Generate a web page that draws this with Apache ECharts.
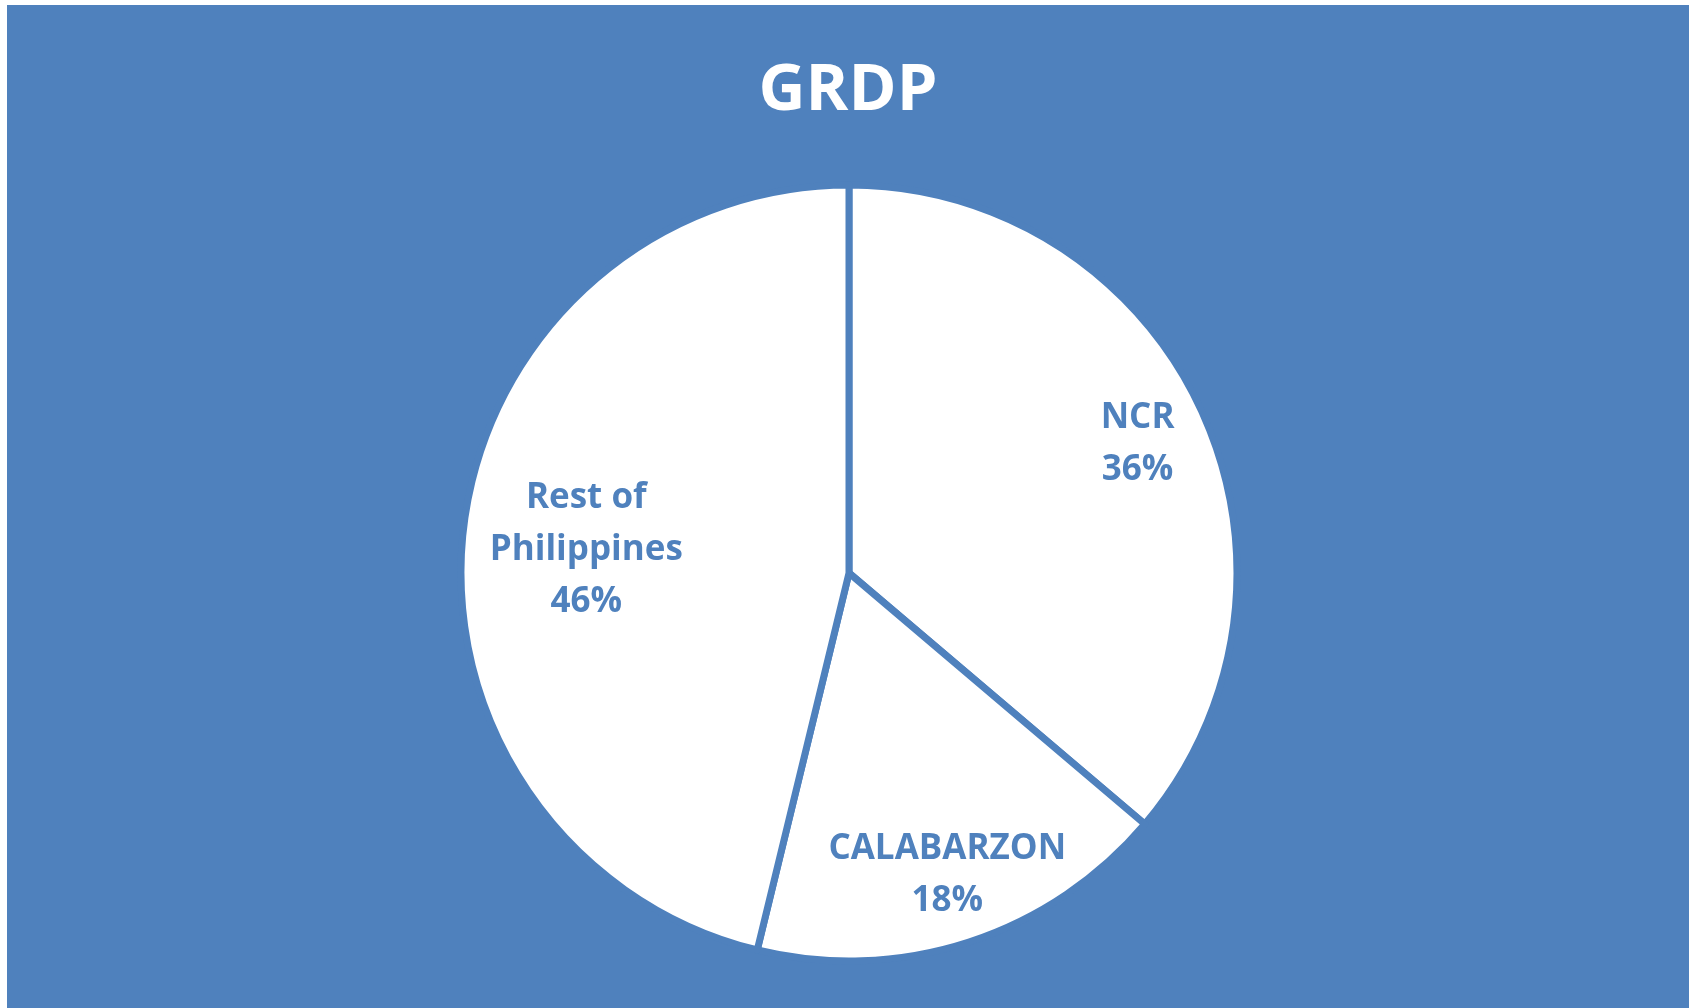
<!DOCTYPE html>
<html>
<head>
<meta charset="utf-8">
<script src="https://cdn.jsdelivr.net/npm/echarts@6/dist/echarts.min.js"></script>
<style>
  html, body { margin: 0; padding: 0; background: #ffffff; width: 1692px; height: 1008px; overflow: hidden; }
  #chart { position: absolute; left: 7px; top: 5px; width: 1682px; height: 1003px; }
</style>
</head>
<body>
<div id="chart"></div>
<script>
// ---- data ----
const categories = ['NCR', 'CALABARZON', 'Rest of Philippines'];
const labelNames = ['NCR', 'CALABARZON', 'Rest of\nPhilippines'];
const values = [36.2, 17.6, 46.2];
const titleText = 'GRDP';

const BLUE = '#4F81BD';
const chart = echarts.init(document.getElementById('chart'), null, { renderer: 'canvas' });

const center = [842, 568];
// spacer line (rich style) used to nudge a label downward; left padding nudges rightward
const labelSpacer = ['{s1| }\n', '', '{s2| }\n'];
const labelPads = [0, 0, [0, 0, 0, 106]];

const mainData = categories.map((c, i) => ({ name: c, value: values[i] }));
const labelData = categories.map((c, i) => ({
  name: c,
  value: values[i],
  label: { formatter: labelSpacer[i] + labelNames[i] + '\n{d}%', padding: labelPads[i] }
}));

chart.setOption({
  backgroundColor: BLUE,
  animation: false,
  title: {
    text: titleText,
    left: 'center',
    top: 49,
    textStyle: { color: '#ffffff', fontFamily: 'Open Sans', fontWeight: 'bold', fontSize: 65 }
  },
  series: [
    {
      type: 'pie',
      center: center,
      radius: [0, 388],
      silent: true,
      startAngle: 90,
      clockwise: true,
      label: { show: false },
      labelLine: { show: false },
      emphasis: { disabled: true },
      itemStyle: { color: '#ffffff', borderColor: BLUE, borderWidth: 7 },
      data: mainData
    },
    {
      type: 'pie',
      center: center,
      radius: [242, 388],
      silent: true,
      startAngle: 90,
      clockwise: true,
      percentPrecision: 0,
      emphasis: { disabled: true },
      itemStyle: { color: 'rgba(0,0,0,0)', borderWidth: 0 },
      labelLine: { show: false },
      label: {
        show: true,
        position: 'inside',
        color: BLUE,
        fontFamily: 'Open Sans',
        fontWeight: 'bold',
        fontSize: 35,
        lineHeight: 52,
        align: 'center',
        rich: {
          s1: { fontSize: 1, lineHeight: 10 },
          s2: { fontSize: 1, lineHeight: 30 }
        }
      },
      data: labelData
    }
  ]
});
</script>
</body>
</html>
